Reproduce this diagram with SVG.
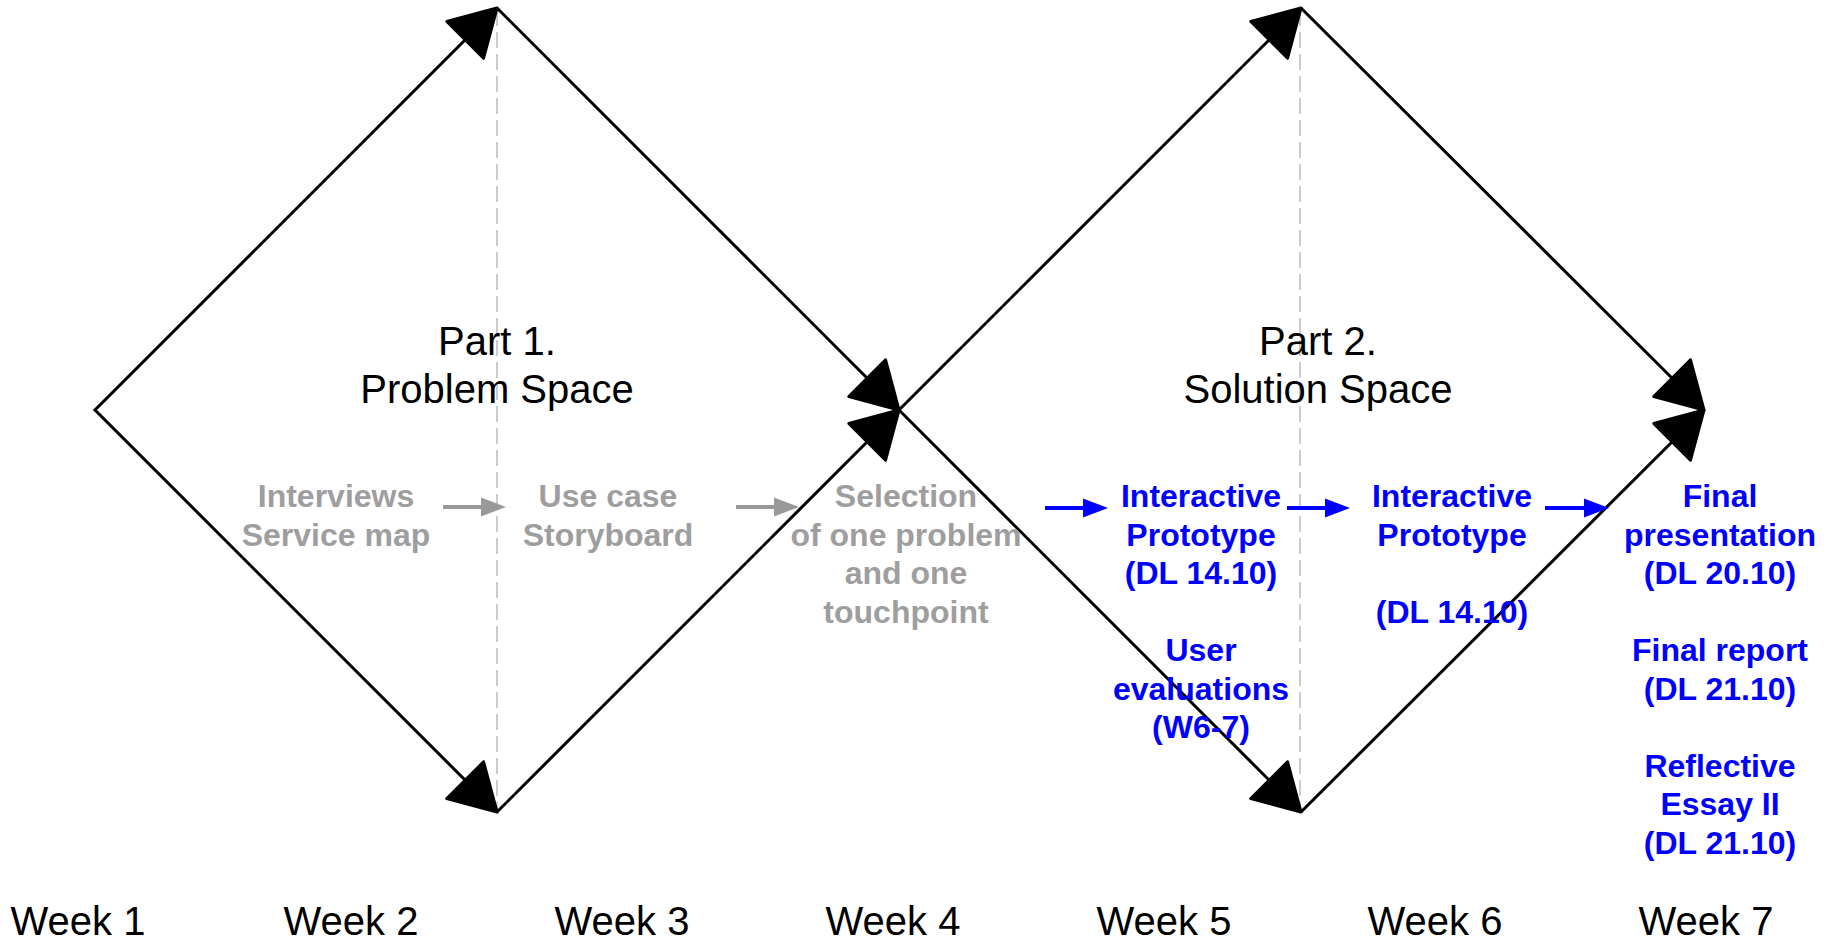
<svg xmlns="http://www.w3.org/2000/svg" width="1826" height="946" viewBox="0 0 1826 946">
<style>
.week{font-family:"Liberation Sans",Arial,sans-serif;font-size:40px;fill:#000;text-anchor:middle}
.part{font-family:"Liberation Sans",Arial,sans-serif;font-size:40px;fill:#000;text-anchor:middle}
.gray{font-family:"Liberation Sans",Arial,sans-serif;font-size:32px;font-weight:bold;fill:#9e9e9e;text-anchor:middle}
.blue{font-family:"Liberation Sans",Arial,sans-serif;font-size:32px;font-weight:bold;fill:#0000ff;text-anchor:middle}
.edge{fill:none;stroke:#000;stroke-width:3;stroke-linejoin:miter}
.dash{fill:none;stroke:#cccccc;stroke-width:2;stroke-dasharray:16 6}
.garrow{fill:none;stroke:#999999;stroke-width:4}
.barrow{fill:none;stroke:#0000ff;stroke-width:4}
</style>
<defs>
<marker id="big" viewBox="-52 -32 58 64" refX="0" refY="0" markerWidth="58" markerHeight="64" markerUnits="userSpaceOnUse" orient="auto-start-reverse">
<path d="M0,0 L-45,-26 L-45,26 Z" fill="#000" stroke="#000" stroke-width="3" stroke-linejoin="round"/>
</marker>
<marker id="gh" viewBox="0 -12 28 24" refX="3" refY="0" markerWidth="28" markerHeight="24" markerUnits="userSpaceOnUse" orient="auto">
<path d="M25,0 L0,-9.5 L0,9.5 Z" fill="#999999"/>
</marker>
<marker id="bh" viewBox="0 -12 28 24" refX="3" refY="0" markerWidth="28" markerHeight="24" markerUnits="userSpaceOnUse" orient="auto">
<path d="M25,0 L0,-9.5 L0,9.5 Z" fill="#0000ff"/>
</marker>
</defs>
<rect x="0" y="0" width="1826" height="946" fill="#ffffff"/>
<g id="guides">
<line class="dash" x1="497" y1="10" x2="497" y2="812"/>
<line class="dash" x1="1300" y1="10" x2="1300" y2="812"/>
</g>
<g id="connectors">
<path class="edge" d="M497,8 L95,410 L497,812" marker-start="url(#big)" marker-end="url(#big)"/>
<path class="edge" d="M497,8 L899,410" marker-end="url(#big)"/>
<path class="edge" d="M497,812 L899,410" marker-end="url(#big)"/>
<path class="edge" d="M899,410 L1301,8" marker-end="url(#big)"/>
<path class="edge" d="M899,410 L1301,812" marker-end="url(#big)"/>
<path class="edge" d="M1301,8 L1704,410" marker-end="url(#big)"/>
<path class="edge" d="M1301,812 L1704,410" marker-end="url(#big)"/>
<line class="garrow" x1="443" y1="507" x2="484" y2="507" marker-end="url(#gh)"/>
<line class="garrow" x1="736" y1="507" x2="777" y2="507" marker-end="url(#gh)"/>
<line class="barrow" x1="1045" y1="508" x2="1086" y2="508" marker-end="url(#bh)"/>
<line class="barrow" x1="1287" y1="508" x2="1328" y2="508" marker-end="url(#bh)"/>
<line class="barrow" x1="1545" y1="508" x2="1587" y2="508" marker-end="url(#bh)"/>
</g>
<g id="part1">
<text class="part" x="497" y="355">Part 1.</text>
<text class="part" x="497" y="403">Problem Space</text>
</g>
<g id="part2">
<text class="part" x="1318" y="355">Part 2.</text>
<text class="part" x="1318" y="403">Solution Space</text>
</g>
<g id="interviews">
<text class="gray" x="336" y="507">Interviews</text>
<text class="gray" x="336" y="545.5">Service map</text>
</g>
<g id="usecase">
<text class="gray" x="608" y="507">Use case</text>
<text class="gray" x="608" y="545.5">Storyboard</text>
</g>
<g id="selection">
<text class="gray" x="906" y="507">Selection</text>
<text class="gray" x="906" y="545.5">of one problem</text>
<text class="gray" x="906" y="584">and one</text>
<text class="gray" x="906" y="622.5">touchpoint</text>
</g>
<g id="prototype1">
<text class="blue" x="1201" y="507">Interactive</text>
<text class="blue" x="1201" y="545.5">Prototype</text>
<text class="blue" x="1201" y="584">(DL 14.10)</text>
</g>
<g id="evaluations">
<text class="blue" x="1201" y="661">User</text>
<text class="blue" x="1201" y="699.5">evaluations</text>
<text class="blue" x="1201" y="738">(W6-7)</text>
</g>
<g id="prototype2">
<text class="blue" x="1452" y="507">Interactive</text>
<text class="blue" x="1452" y="545.5">Prototype</text>
<text class="blue" x="1452" y="622.5">(DL 14.10)</text>
</g>
<g id="finalpresentation">
<text class="blue" x="1720" y="507">Final</text>
<text class="blue" x="1720" y="545.5">presentation</text>
<text class="blue" x="1720" y="584">(DL 20.10)</text>
</g>
<g id="finalreport">
<text class="blue" x="1720" y="661">Final report</text>
<text class="blue" x="1720" y="699.5">(DL 21.10)</text>
</g>
<g id="essay">
<text class="blue" x="1720" y="776.5">Reflective</text>
<text class="blue" x="1720" y="815">Essay II</text>
<text class="blue" x="1720" y="853.5">(DL 21.10)</text>
</g>
<g id="weeks">
<text class="week" x="78" y="935">Week 1</text>
<text class="week" x="351" y="935">Week 2</text>
<text class="week" x="622" y="935">Week 3</text>
<text class="week" x="893" y="935">Week 4</text>
<text class="week" x="1164" y="935">Week 5</text>
<text class="week" x="1435" y="935">Week 6</text>
<text class="week" x="1706" y="935">Week 7</text>
</g>
</svg>
